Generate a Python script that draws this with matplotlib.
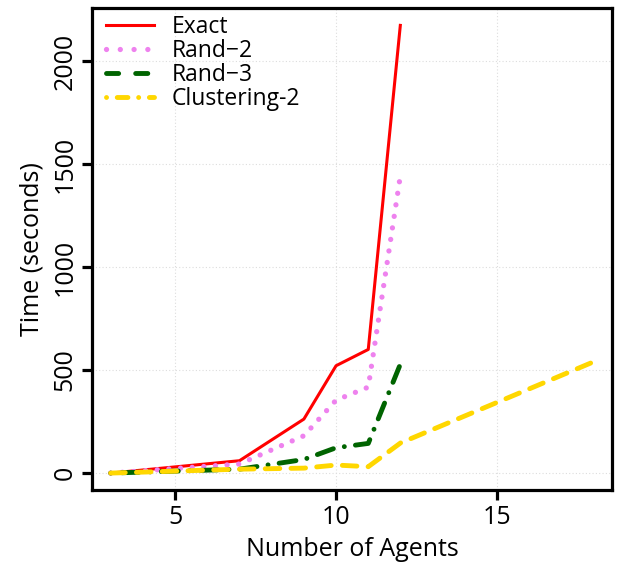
import matplotlib
matplotlib.use("Agg")
import matplotlib.pyplot as plt
from matplotlib.lines import Line2D

plt.rcParams['font.family'] = ['Open Sans', 'DejaVu Sans']

exact_x = [3, 7, 9, 10, 11, 12]
exact_y = [0, 60, 262, 521, 600, 2180]
rand2_x = [3, 7, 9, 10, 11, 12]
rand2_y = [0, 44, 181, 354, 417, 1447]
rand3_x = [3, 7, 9, 10, 11, 12]
rand3_y = [0, 19, 66, 123, 144, 530]
clus_x = [3, 7, 9, 10, 11, 12, 18]
clus_y = [0, 19, 24, 39, 31, 146, 540]

labels = ["Exact", "Rand\u22122", "Rand\u22123", "Clustering-2"]
colors = ["#ff0000", "#ee82ee", "#006400", "#ffd700"]

fig = plt.figure(figsize=(6.18, 5.63), dpi=100)
ax = fig.add_axes([0.1489, 0.1297, 0.8414, 0.8561])

ax.plot(exact_x, exact_y, color=colors[0], lw=2.2, solid_capstyle='butt')
ax.plot(rand2_x, rand2_y, color=colors[1], lw=3.8, linestyle=(0, (0.01, 2.2)),
        dash_capstyle='round')
ax.plot(rand3_x, rand3_y, color=colors[2], lw=3.5, linestyle=(0, (0.01, 2.3, 3.5, 2.3)),
        dash_capstyle='round')
ax.plot(clus_x, clus_y, color=colors[3], lw=3.5, linestyle=(0, (3.0, 2.3)),
        dash_capstyle='round')

ax.set_xlim(2.42, 18.57)
ax.set_ylim(-82, 2257)
ax.set_xticks([5, 10, 15])
ax.set_yticks([0, 500, 1000, 1500, 2000])
ax.grid(True, color='#dddddd', linestyle=(0, (1, 2)), lw=0.8)
for s in ax.spines.values():
    s.set_linewidth(2.3)
ax.tick_params(axis='both', width=2.3, length=7, labelsize=18, direction='out')
for lbl in ax.get_yticklabels():
    lbl.set_rotation(90)
    lbl.set_va('center')
ax.set_xlabel("Number of Agents", fontsize=18, labelpad=5)
ax.set_ylabel("Time (seconds)", fontsize=18, labelpad=6)

handles = [
    Line2D([], [], color=colors[0], lw=2.2),
    Line2D([], [], color=colors[1], lw=3.8, linestyle=(0, (0.01, 2.6)), dash_capstyle='round'),
    Line2D([], [], color=colors[2], lw=3.5, linestyle=(0, (2.5, 3.5)), dash_capstyle='round'),
    Line2D([], [], color=colors[3], lw=3.5, linestyle=(0, (0.01, 2.2, 2.2, 2.2)), dash_capstyle='round'),
]
leg = ax.legend(handles, labels, loc='upper left', frameon=False, fontsize=16.5,
                handlelength=2.1, handletextpad=0.75, labelspacing=0.0,
                borderaxespad=0.15, borderpad=0.15)
leg.set_bbox_to_anchor((0.014, 1.0), transform=ax.transAxes)

fig.savefig("out.png", dpi=100)
